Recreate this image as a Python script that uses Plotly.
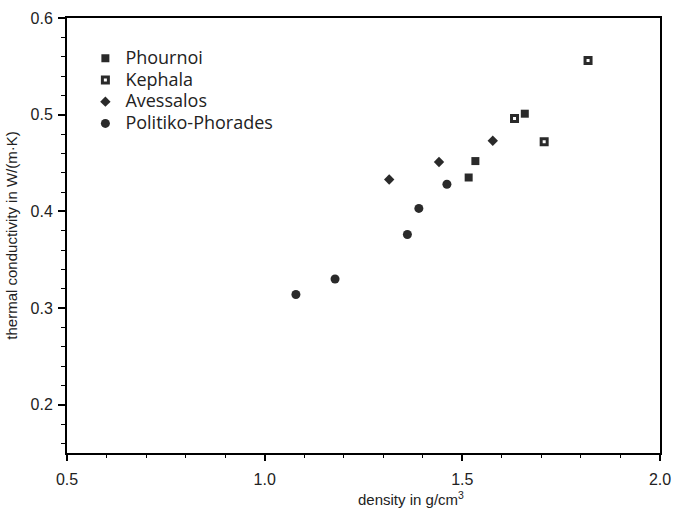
import plotly.graph_objects as go

# Data
phournoi_density = [1.516, 1.533, 1.658]
phournoi_k = [0.435, 0.452, 0.501]

kephala_density = [1.632, 1.707, 1.818]
kephala_k = [0.496, 0.472, 0.556]

avessalos_density = [1.315, 1.441, 1.577]
avessalos_k = [0.433, 0.451, 0.473]

politiko_density = [1.079, 1.178, 1.361, 1.390, 1.461]
politiko_k = [0.314, 0.330, 0.376, 0.403, 0.428]

series_names = ["Phournoi", "Kephala", "Avessalos", "Politiko-Phorades"]

x_ticks = [0.5, 1.0, 1.5, 2.0]
y_ticks = [0.2, 0.3, 0.4, 0.5, 0.6]

DARK = "#2a2a2a"
TICK_FONT = dict(family="Liberation Sans", size=16, color="#222222")
TITLE_FONT = dict(family="Liberation Sans", size=15, color="#222222")


def legend_label(name):
    return f'<span style="font-size:18px">{name}</span>'


fig = go.Figure()
fig.add_trace(go.Scatter(
    x=phournoi_density, y=phournoi_k, mode="markers", name=legend_label(series_names[0]),
    marker=dict(symbol="square", size=8, color=DARK, line=dict(width=0))))
fig.add_trace(go.Scatter(
    x=kephala_density, y=kephala_k, mode="markers", name=legend_label(series_names[1]),
    marker=dict(symbol="square", size=6, color="white", line=dict(width=3, color=DARK))))
fig.add_trace(go.Scatter(
    x=avessalos_density, y=avessalos_k, mode="markers", name=legend_label(series_names[2]),
    marker=dict(symbol="diamond", size=8, color=DARK, line=dict(width=0))))
fig.add_trace(go.Scatter(
    x=politiko_density, y=politiko_k, mode="markers", name=legend_label(series_names[3]),
    marker=dict(symbol="circle", size=9, color=DARK, line=dict(width=0))))

fig.update_layout(
    width=681, height=508,
    margin=dict(l=67, r=10, t=16, b=55),
    paper_bgcolor="white", plot_bgcolor="white",
    showlegend=True,
    legend=dict(
        x=0.031, y=0.944, xanchor="left", yanchor="top",
        bgcolor="rgba(0,0,0,0)", borderwidth=0,
        font=dict(family="Open Sans, sans-serif", size=14.4, color="#222222"),
        itemsizing="trace", tracegroupgap=0,
    ),
    xaxis=dict(
        range=[0.5, 2.0], tickvals=x_ticks, ticktext=[f"{v:.1f}" for v in x_ticks],
        showgrid=False, zeroline=False,
        showline=True, linecolor="black", linewidth=2, mirror=True,
        ticks="outside", ticklen=6, tickwidth=1.5, tickcolor="black",
        minor=dict(dtick=0.1, ticks="outside", ticklen=3, tickwidth=1.2, tickcolor="black"),
        tickfont=TICK_FONT, ticklabelstandoff=5,
    ),
    yaxis=dict(
        range=[0.15, 0.6], tickvals=y_ticks, ticktext=[f"{v:.1f}" for v in y_ticks],
        showgrid=False, zeroline=False,
        showline=True, linecolor="black", linewidth=2, mirror=True,
        ticks="outside", ticklen=7, tickwidth=1.5, tickcolor="black",
        minor=dict(tick0=0.0, dtick=0.02, ticks="outside", ticklen=4, tickwidth=1.2, tickcolor="black"),
        tickfont=TICK_FONT, ticklabelstandoff=2,
        title=dict(text="thermal conductivity in W/(m·K)", font=TITLE_FONT, standoff=9),
    ),
    annotations=[dict(
        text="density in g/cm<sup>3</sup>", xref="paper", yref="paper",
        x=0.58, y=-0.104, xanchor="center", yanchor="middle", showarrow=False,
        font=TITLE_FONT,
    )],
)

fig.write_html("out.html")
